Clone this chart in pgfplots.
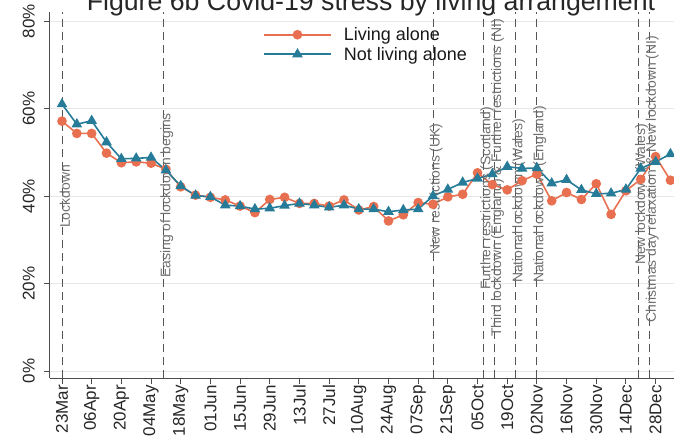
\documentclass[border=0pt]{standalone}
\usepackage{fontspec}
\setmainfont{Liberation Sans}
\usepackage{pgfplots}
\usepackage{pgfplotstable}
\pgfplotsset{compat=1.18}

\definecolor{alone}{RGB}{232,112,80}
\definecolor{notalone}{RGB}{38,124,152}
\definecolor{evline}{RGB}{85,85,85}
\definecolor{evtext}{RGB}{110,110,110}

% Weekly share reporting Covid-19 stress (%), day 0 = 23 March 2020
\pgfplotstableread{
day alone notalone
0   57.1  61.0
7   54.3  56.4
14  54.3  57.2
21  49.8  52.3
28  47.6  48.5
35  47.8  48.6
42  47.5  48.8
49  46.1  45.9
56  42.1  42.3
63  40.2  40.1
70  39.7  39.8
77  39.1  37.9
84  37.7  37.7
91  36.2  37.0
98  39.2  37.2
105 39.7  37.8
112 38.3  38.3
119 38.3  37.9
126 37.7  37.4
133 39.1  37.9
140 36.8  37.0
147 37.6  37.0
154 34.3  36.4
161 35.7  36.8
168 38.5  37.0
175 38.1  40.0
182 39.8  41.5
189 40.4  43.1
196 45.3  44.0
203 42.6  45.0
210 41.4  46.7
217 43.5  46.3
224 45.0  46.4
231 38.9  42.9
238 40.8  43.7
245 39.2  41.4
252 42.8  40.5
259 35.8  40.6
266 41.2  41.5
273 43.8  46.3
280 49.0  47.8
287 43.6  49.6
}\stress

\tikzset{evlabel/.style={rotate=90, anchor=west, inner sep=0pt,
  text=evtext, font=\fontsize{13.9}{14}\selectfont}}

\begin{document}
\begin{tikzpicture}
\begin{axis}[
  x=2.12pt, y=4.375pt,
  xmin=-5.7, xmax=300, ymin=-1.6, ymax=82,
  axis x line*=bottom, axis y line*=left,
  axis line style={draw=black!70, line width=0.9pt},
  tick align=outside, major tick length=6pt,
  tick style={draw=black!70, line width=0.9pt},
  xtick={0,14,...,280},
  xticklabels={23Mar,06Apr,20Apr,04May,18May,01Jun,15Jun,29Jun,13Jul,27Jul,
    10Aug,24Aug,07Sep,21Sep,05Oct,19Oct,02Nov,16Nov,30Nov,14Dec,28Dec},
  ytick={0,20,40,60,80},
  yticklabels={0\%,20\%,40\%,60\%,80\%},
  xticklabel style={rotate=90, anchor=east, inner sep=1pt,
    text=black!85, font=\fontsize{17}{17}\selectfont},
  yticklabel style={rotate=90, anchor=south, inner sep=1pt,
    text=black!85, font=\fontsize{17}{17}\selectfont},
  yticklabel shift=8pt,
  ymajorgrids, grid style={draw=black!9, line width=0.7pt},
  clip=false,
  legend cell align=left,
  legend image code/.code={\draw[mark repeat=2, mark phase=2, #1]
    plot coordinates {(0pt,0pt) (33.5pt,0pt) (67pt,0pt)};},
  legend style={at={(axis cs:94.8,78.8)}, anchor=north west,
    draw=none, fill=none, inner sep=0pt, row sep=3pt,
    font=\fontsize{18}{18}\selectfont,
    nodes={inner sep=1pt, text=black!90},
    /tikz/every odd column/.append style={column sep=11pt}},
]

% event markers
\pgfplotsinvokeforeach{0,48,175,199,204,214,224,272,277}{
  \draw[evline, line width=0.9pt, dash pattern=on 8pt off 5pt]
    (axis cs:#1,-1.6) -- (axis cs:#1,82);
}

\addplot[color=alone, line width=1.6pt, mark=*, mark size=4pt,
  mark options={solid, fill=alone, draw=alone}]
  table[x=day, y=alone] {\stress};
\addlegendentry{Living alone}
\addplot[color=notalone, line width=1.6pt, mark=triangle*, mark size=4.6pt,
  mark options={solid, fill=notalone, draw=notalone}]
  table[x=day, y=notalone] {\stress};
\addlegendentry{Not living alone}

\node[evlabel] at (axis cs:1.4,32.7) {Lockdown};
\node[evlabel] at (axis cs:49.4,21.3) {Easing of lockdown begins};
\node[evlabel] at (axis cs:176.4,26.5) {New restrictions (UK)};
\node[evlabel] at (axis cs:200.4,18.5) {Further restrictions (Scotland)};
\node[evlabel] at (axis cs:205.4,7.8) {Third lockdown (England) \& Further restrictions (NI)};
\node[evlabel] at (axis cs:215.4,20.1) {National lockdown (Wales)};
\node[evlabel] at (axis cs:225.4,20.1) {National lockdown (England)};
\node[evlabel] at (axis cs:273.4,24.2) {New lockdown (Wales)};
\node[evlabel] at (axis cs:278.4,11.0) {Christmas day relaxation \& New lockdown (NI)};

\node[anchor=base, text=black!85, font=\fontsize{26.7}{30}\selectfont]
  at (axis cs:145.75,82.5) {Figure 6b Covid-19 stress by living arrangement};

\coordinate (cropbl) at (axis cs:-29.245,-16.686);
\coordinate (croptr) at (axis cs:288.68,84.8);
\end{axis}
\pgfresetboundingbox
\useasboundingbox (cropbl) rectangle (croptr);
\end{tikzpicture}
\end{document}
